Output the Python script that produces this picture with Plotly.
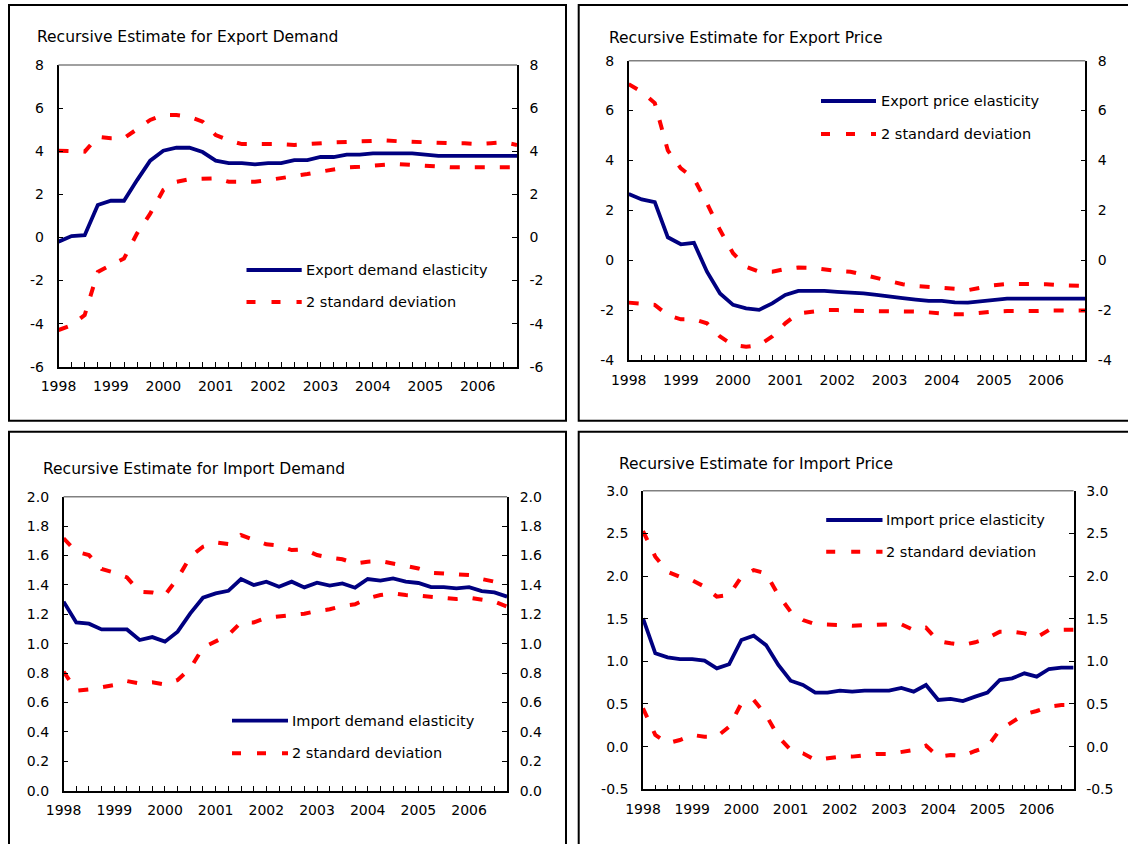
import plotly.graph_objects as go

W, H = 1128, 844

# ---------------- data (quarterly, 1998Q1 .. 2006Q4) ----------------
quarters = [f"{y}Q{q}" for y in range(1998, 2007) for q in range(1, 5)]
year_labels = ["1998", "1999", "2000", "2001", "2002", "2003", "2004", "2005", "2006"]

export_demand = [-0.2, 0.06, 0.1, 1.5, 1.7, 1.7, 2.66, 3.56, 4.02, 4.16, 4.16, 3.96,
                 3.56, 3.45, 3.45, 3.39, 3.45, 3.45, 3.59, 3.59, 3.73, 3.73, 3.84, 3.84,
                 3.9, 3.9, 3.9, 3.9, 3.84, 3.78, 3.78, 3.78, 3.78, 3.78, 3.78, 3.78]
export_demand_up = [4.02, 4.0, 3.98, 4.67, 4.6, 4.6, 5.0, 5.45, 5.68, 5.68, 5.6, 5.37,
                    4.75, 4.5, 4.33, 4.33, 4.37, 4.33, 4.29, 4.33, 4.4, 4.41, 4.43, 4.44,
                    4.46, 4.5, 4.46, 4.43, 4.4, 4.37, 4.37, 4.37, 4.33, 4.37, 4.41, 4.29]
export_demand_lo = [-4.3, -4.07, -3.6, -1.6, -1.28, -0.98, 0.19, 1.1, 2.2, 2.58, 2.7, 2.74,
                    2.74, 2.58, 2.58, 2.58, 2.66, 2.74, 2.85, 2.94, 3.05, 3.13, 3.25, 3.28,
                    3.34, 3.37, 3.4, 3.36, 3.31, 3.25, 3.25, 3.25, 3.25, 3.25, 3.25, 3.25]

export_price = [2.66, 2.44, 2.33, 0.92, 0.64, 0.7, -0.46, -1.33, -1.79, -1.93, -1.99, -1.73,
                -1.39, -1.23, -1.23, -1.23, -1.27, -1.29, -1.33, -1.39, -1.47, -1.52, -1.58, -1.63,
                -1.63, -1.69, -1.7, -1.65, -1.6, -1.54, -1.54, -1.54, -1.54, -1.54, -1.54, -1.54]
export_price_up = [7.06, 6.75, 6.3, 4.4, 3.68, 3.28, 2.28, 1.21, 0.28, -0.26, -0.46, -0.46,
                   -0.35, -0.29, -0.3, -0.37, -0.43, -0.46, -0.59, -0.72, -0.83, -0.96, -1.03, -1.06,
                   -1.1, -1.14, -1.2, -1.09, -1.0, -0.95, -0.95, -0.96, -0.96, -1.0, -1.03, -1.03]
export_price_lo = [-1.7, -1.75, -1.79, -2.2, -2.37, -2.37, -2.53, -3.06, -3.4, -3.47, -3.4, -3.06,
                   -2.53, -2.13, -2.06, -2.0, -2.0, -2.04, -2.04, -2.04, -2.04, -2.05, -2.06, -2.09,
                   -2.13, -2.17, -2.16, -2.1, -2.06, -2.04, -2.06, -2.04, -2.02, -2.02, -2.02, -2.02]

import_demand = [1.286, 1.145, 1.136, 1.097, 1.097, 1.097, 1.025, 1.045, 1.014, 1.082, 1.206, 1.313,
                 1.342, 1.36, 1.44, 1.399, 1.422, 1.388, 1.422, 1.383, 1.415, 1.395, 1.41, 1.381,
                 1.44, 1.429, 1.444, 1.422, 1.413, 1.385, 1.385, 1.376, 1.385, 1.358, 1.349, 1.32]
import_demand_up = [1.717, 1.626, 1.603, 1.508, 1.483, 1.451, 1.354, 1.349, 1.331, 1.444, 1.592, 1.66,
                    1.689, 1.678, 1.739, 1.705, 1.676, 1.667, 1.637, 1.642, 1.603, 1.585, 1.574, 1.546,
                    1.558, 1.562, 1.546, 1.524, 1.512, 1.483, 1.478, 1.467, 1.467, 1.44, 1.422, 1.395]
import_demand_lo = [0.81, 0.68, 0.689, 0.703, 0.719, 0.746, 0.73, 0.737, 0.723, 0.753, 0.832, 0.973,
                    1.014, 1.059, 1.145, 1.145, 1.177, 1.184, 1.195, 1.204, 1.222, 1.234, 1.256, 1.268,
                    1.308, 1.331, 1.342, 1.331, 1.327, 1.32, 1.308, 1.304, 1.313, 1.302, 1.286, 1.252]

import_price = [1.504, 1.094, 1.047, 1.027, 1.027, 1.008, 0.918, 0.965, 1.25, 1.3, 1.19, 0.957,
                0.773, 0.723, 0.633, 0.633, 0.656, 0.645, 0.656, 0.656, 0.656, 0.688, 0.645, 0.723,
                0.547, 0.559, 0.535, 0.586, 0.633, 0.781, 0.801, 0.859, 0.82, 0.91, 0.926, 0.926]
import_price_up = [2.527, 2.227, 2.05, 1.99, 1.95, 1.875, 1.758, 1.777, 1.99, 2.07, 2.03, 1.777,
                   1.582, 1.484, 1.434, 1.434, 1.426, 1.418, 1.426, 1.434, 1.434, 1.434, 1.367, 1.395,
                   1.238, 1.211, 1.191, 1.223, 1.27, 1.348, 1.348, 1.328, 1.281, 1.367, 1.367, 1.37]
import_price_lo = [0.449, 0.137, 0.039, 0.078, 0.137, 0.117, 0.117, 0.234, 0.508, 0.547, 0.371, 0.117,
                   -0.039, -0.078, -0.156, -0.137, -0.117, -0.117, -0.098, -0.086, -0.086, -0.059, -0.039, 0.012,
                   -0.117, -0.098, -0.109, -0.051, 0.0, 0.195, 0.293, 0.379, 0.418, 0.469, 0.488, 0.488]

yticks_export_demand = [-6, -4, -2, 0, 2, 4, 6, 8]
yticks_export_price = [-4, -2, 0, 2, 4, 6, 8]
yticks_import_demand = [0.0, 0.2, 0.4, 0.6, 0.8, 1.0, 1.2, 1.4, 1.6, 1.8, 2.0]
yticks_import_price = [-0.5, 0.0, 0.5, 1.0, 1.5, 2.0, 2.5, 3.0]

# ---------------- styling / layout ----------------
FONT = "DejaVu Sans"
BLUE = "#000080"
RED = "#FF0000"
DASH = "10px,15px"

panels = [
    dict(title="Recursive Estimate for Export Demand", est=export_demand, up=export_demand_up,
         lo=export_demand_lo, name="Export demand elasticity", ticks=yticks_export_demand, fmt="{:g}",
         plot=(58.5, 517, 65, 366.7), title_xy=(36.3, 37.5),
         leg=(246.5, 301.7, 270, 302, 305.3), border=(9, 566, 5, 420.7)),
    dict(title="Recursive Estimate for Export Price", est=export_price, up=export_price_up,
         lo=export_price_lo, name="Export price elasticity", ticks=yticks_export_price, fmt="{:g}",
         plot=(628.7, 1085.3, 60.7, 360), title_xy=(608.4, 37.7),
         leg=(821, 876, 101, 134, 879.6), border=(578.7, 1135, 5, 420.7)),
    dict(title="Recursive Estimate for Import Demand", est=import_demand, up=import_demand_up,
         lo=import_demand_lo, name="Import demand elasticity", ticks=yticks_import_demand, fmt="{:.1f}",
         plot=(63.6, 507.1, 496.7, 790.7), title_xy=(41.8, 469),
         leg=(232, 288, 720.7, 753.3, 290.8), border=(9, 566, 431.7, 850)),
    dict(title="Recursive Estimate for Import Price", est=import_price, up=import_price_up,
         lo=import_price_lo, name="Import price elasticity", ticks=yticks_import_price, fmt="{:.1f}",
         plot=(643, 1073.6, 490.7, 789.3), title_xy=(618, 464.3),
         leg=(826.2, 882.5, 520, 551.7, 885.3), border=(578.7, 1135, 431.7, 850)),
]

xtick_text = [year_labels[i // 4] if i % 4 == 0 else "" for i in range(len(quarters))]


def px(x):
    return x / W


def py(y):
    return 1 - y / H


fig = go.Figure()
shapes = []
annotations = []
layout = {}

for i, p in enumerate(panels):
    xa = f"x{i + 1}" if i else "x"
    ya = f"y{2 * i + 1}" if i else "y"
    yb = f"y{2 * i + 2}"
    xkey = f"xaxis{i + 1}" if i else "xaxis"
    ykey = f"yaxis{2 * i + 1}" if i else "yaxis"
    ykey2 = f"yaxis{2 * i + 2}"
    x0, x1, y0, y1 = p["plot"]

    # confidence bands on the left axis, estimate on the (identical) right axis, drawn on top
    for vals in (p["up"], p["lo"]):
        fig.add_trace(go.Scatter(x=quarters, y=vals, mode="lines", xaxis=xa, yaxis=ya,
                                 line=dict(color=RED, width=4, dash=DASH),
                                 showlegend=False, hoverinfo="skip"))
    fig.add_trace(go.Scatter(x=quarters, y=p["est"], mode="lines", xaxis=xa, yaxis=yb,
                             line=dict(color=BLUE, width=3.8),
                             showlegend=False, hoverinfo="skip"))

    rng = [p["ticks"][0], p["ticks"][-1]]
    ttext = [p["fmt"].format(v) for v in p["ticks"]]
    tickfont = dict(family=FONT, size=14, color="black")
    common_y = dict(range=rng, tickmode="array", tickvals=p["ticks"], ticktext=ttext,
                    ticks="inside", ticklen=5, tickwidth=1, tickcolor="black", showline=True,
                    linecolor="black", linewidth=1.5, showgrid=False, zeroline=False,
                    tickfont=tickfont, automargin=False, fixedrange=True)
    layout[xkey] = dict(domain=[px(x0), px(x1)], anchor=ya, type="category",
                        range=[0, len(quarters) - 1], tickmode="array", tickvals=quarters,
                        ticktext=xtick_text, ticks="inside", ticklen=5, tickwidth=1,
                        tickcolor="black", showline=True, linecolor="black", linewidth=1.5,
                        showgrid=False, zeroline=False, tickfont=tickfont,
                        ticklabelstandoff=6, automargin=False, fixedrange=True)
    layout[ykey] = dict(domain=[py(y1), py(y0)], anchor=xa, side="left",
                        ticklabelstandoff=10, **common_y)
    layout[ykey2] = dict(domain=[py(y1), py(y0)], overlaying=ya, anchor=xa, side="right",
                         ticklabelstandoff=8, **common_y)

    # gray top edge of the plot area
    shapes.append(dict(type="line", xref=f"{xa} domain", yref=f"{ya} domain", x0=0, x1=1, y0=1, y1=1,
                       line=dict(color="#808080", width=1.5)))
    # panel border
    bx0, bx1, by0, by1 = p["border"]
    shapes.append(dict(type="rect", xref="paper", yref="paper", x0=px(bx0), x1=px(bx1),
                       y0=py(by1), y1=py(by0), line=dict(color="black", width=2)))
    # title
    tx, ty = p["title_xy"]
    annotations.append(dict(text=p["title"], xref="paper", yref="paper", x=px(tx), y=py(ty),
                            xanchor="left", yanchor="middle", showarrow=False, borderpad=0,
                            font=dict(family=FONT, size=15.5, color="black")))
    # legend
    lx0, lx1, ly1, ly2, ltx = p["leg"]
    shapes.append(dict(type="line", xref="paper", yref="paper", x0=px(lx0), x1=px(lx1),
                       y0=py(ly1), y1=py(ly1), line=dict(color=BLUE, width=3.8)))
    shapes.append(dict(type="line", xref="paper", yref="paper", x0=px(lx0), x1=px(lx1),
                       y0=py(ly2), y1=py(ly2), line=dict(color=RED, width=4, dash="9px,16px")))
    for txt, ly in ((p["name"], ly1), ("2 standard deviation", ly2)):
        annotations.append(dict(text=txt, xref="paper", yref="paper", x=px(ltx), y=py(ly),
                                xanchor="left", yanchor="middle", showarrow=False, borderpad=0,
                                font=dict(family=FONT, size=14.5, color="black")))

fig.update_layout(template="none", width=W, height=H,
                  margin=dict(l=0, r=0, t=0, b=0, pad=0, autoexpand=False),
                  paper_bgcolor="white", plot_bgcolor="white", showlegend=False,
                  shapes=shapes, annotations=annotations, **layout)

fig.write_html("out.html", config=dict(displayModeBar=False),
               post_script="document.body.style.margin='0';document.body.style.overflow='hidden';")
